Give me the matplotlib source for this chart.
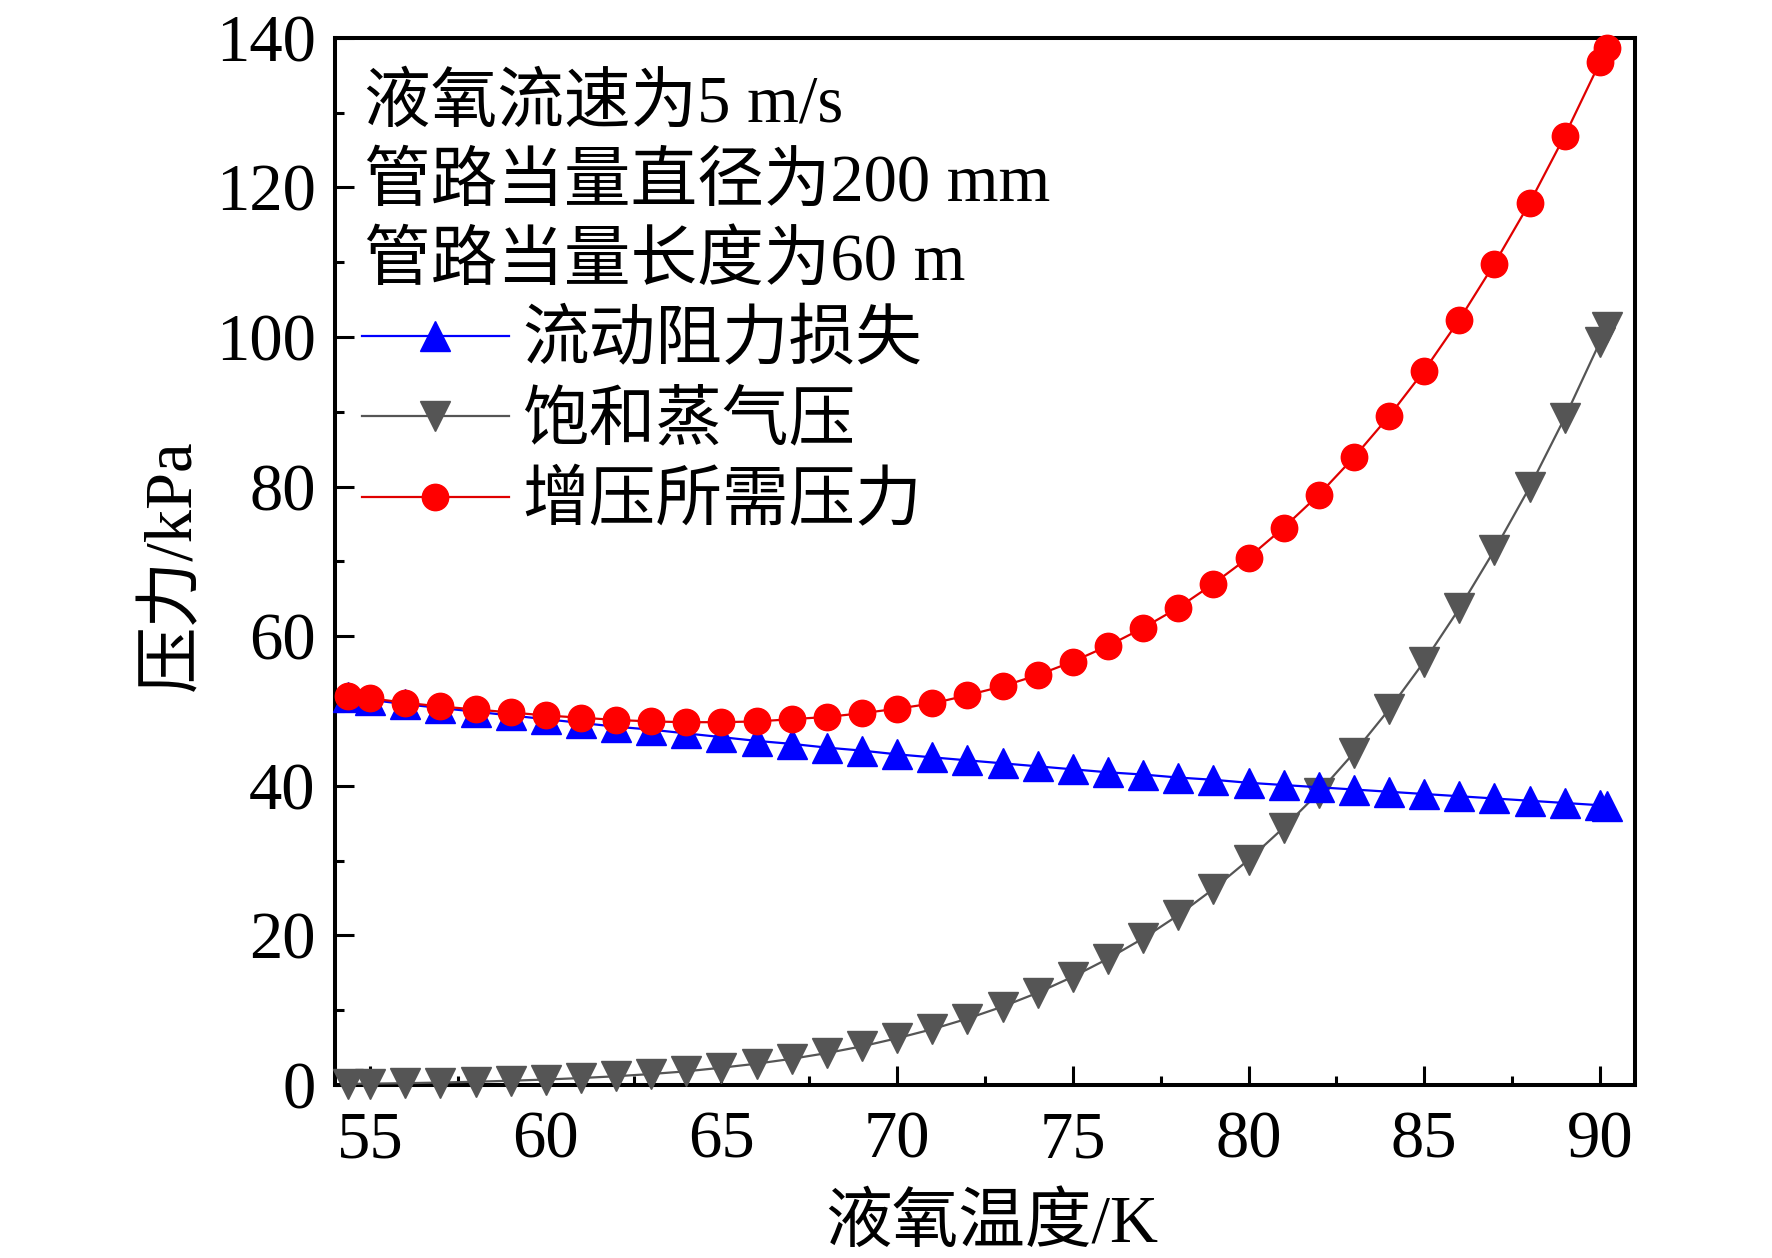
import matplotlib
matplotlib.use("Agg")
import matplotlib.pyplot as plt
from matplotlib.ticker import MultipleLocator

plt.rcParams['font.family'] = ['Liberation Serif', 'Noto Sans CJK SC']
plt.rcParams['axes.unicode_minus'] = False

# Data
temperature = [54.36, 55, 56, 57, 58, 59, 60, 61, 62, 63, 64, 65, 66, 67, 68, 69, 70,
               71, 72, 73, 74, 75, 76, 77, 78, 79, 80, 81, 82, 83, 84, 85, 86, 87,
               88, 89, 90, 90.19]
flow_loss = [51.9, 51.5, 50.9, 50.4, 49.9, 49.4, 48.9, 48.4, 47.9, 47.5, 47.0, 46.5,
             46.0, 45.6, 45.1, 44.7, 44.2, 43.8, 43.4, 43.0, 42.6, 42.2, 41.8, 41.5,
             41.1, 40.8, 40.4, 40.1, 39.8, 39.5, 39.2, 38.9, 38.6, 38.3, 38.0, 37.7,
             37.4, 37.35]
vapor_pressure = [0.15, 0.18, 0.24, 0.33, 0.44, 0.57, 0.73, 0.93, 1.17, 1.47, 1.83,
                  2.31, 2.85, 3.50, 4.27, 5.17, 6.25, 7.46, 8.87, 10.48, 12.33, 14.47,
                  16.88, 19.6, 22.7, 26.2, 30.1, 34.4, 39.1, 44.4, 50.2, 56.6, 63.7,
                  71.5, 79.9, 89.2, 99.3, 101.3]
required_pressure = [52.0, 51.7, 51.1, 50.6, 50.2, 49.8, 49.4, 49.1, 48.8, 48.6, 48.5,
                     48.5, 48.6, 48.9, 49.2, 49.7, 50.3, 51.0, 52.1, 53.3, 54.8, 56.6,
                     58.7, 61.1, 63.8, 67.0, 70.5, 74.5, 78.9, 83.9, 89.4, 95.5, 102.3,
                     109.8, 117.9, 126.9, 136.7, 138.6]
series_labels = ['流动阻力损失', '饱和蒸气压', '增压所需压力']
notes = ['液氧流速为5 m/s', '管路当量直径为200 mm', '管路当量长度为60 m']
x_ticks = [55, 60, 65, 70, 75, 80, 85, 90]
y_ticks = [0, 20, 40, 60, 80, 100, 120, 140]

W, H = 1772, 1258
DPI = 100
fig = plt.figure(figsize=(W / DPI, H / DPI), dpi=DPI)
ax_top, ax_bot = 37.7, 1085
ax = fig.add_axes([335 / W, 1 - ax_bot / H, (1635 - 335) / W, (ax_bot - ax_top) / H])

l_gray, = ax.plot(temperature, vapor_pressure, color='#555555', lw=1.6, marker='v',
                  ms=22, mfc='#555555', mec='#555555', clip_on=False, zorder=3)
l_blue, = ax.plot(temperature, flow_loss, color='#0000FF', lw=1.6, marker='^',
                  ms=22, mfc='#0000FF', mec='#0000FF', clip_on=False, zorder=4)
l_red, = ax.plot(temperature, required_pressure, color='#E00000', lw=1.6, marker='o',
                 ms=19, mfc='#FF0000', mec='#FF0000', clip_on=False, zorder=5)

ax.set_xlim(54, 91)
ax.set_ylim(0, 140)
ax.set_xticks(x_ticks)
ax.set_yticks(y_ticks)
ax.xaxis.set_minor_locator(MultipleLocator(2.5))
ax.yaxis.set_minor_locator(MultipleLocator(10))

for s in ax.spines.values():
    s.set_linewidth(2.9)
    s.set_zorder(2.5)

ax.tick_params(axis='both', which='both', direction='in', top=False, right=False,
               width=2.2)
ax.tick_params(axis='both', which='major', length=13.5, labelsize=48)
ax.tick_params(axis='both', which='minor', length=6.5)
ax.tick_params(axis='x', which='major', pad=18)
ax.tick_params(axis='y', which='major', pad=14)

fig.text(992 / W, 1 - 1225 / H, '液氧温度/K', fontsize=48, ha='center', va='center')
fig.text(173 / W, 1 - 565 / H, '压力/kPa', fontsize=48, ha='center', va='center',
         rotation=90)

for t, yc in zip(notes, [105, 184, 263]):
    fig.text(364 / W, 1 - yc / H, t, fontsize=48, ha='left', va='center')

leg_top = 311
leg = ax.legend([l_blue, l_gray, l_red], series_labels, loc='upper left',
                bbox_to_anchor=((362 - 335) / 1300, (ax_bot - leg_top) / (ax_bot - ax_top)),
                frameon=False, fontsize=48, handlelength=2.2, handletextpad=0.2,
                labelspacing=0.28, borderpad=0, borderaxespad=0, markerscale=1.0)

fig.savefig('out.png', dpi=DPI)
